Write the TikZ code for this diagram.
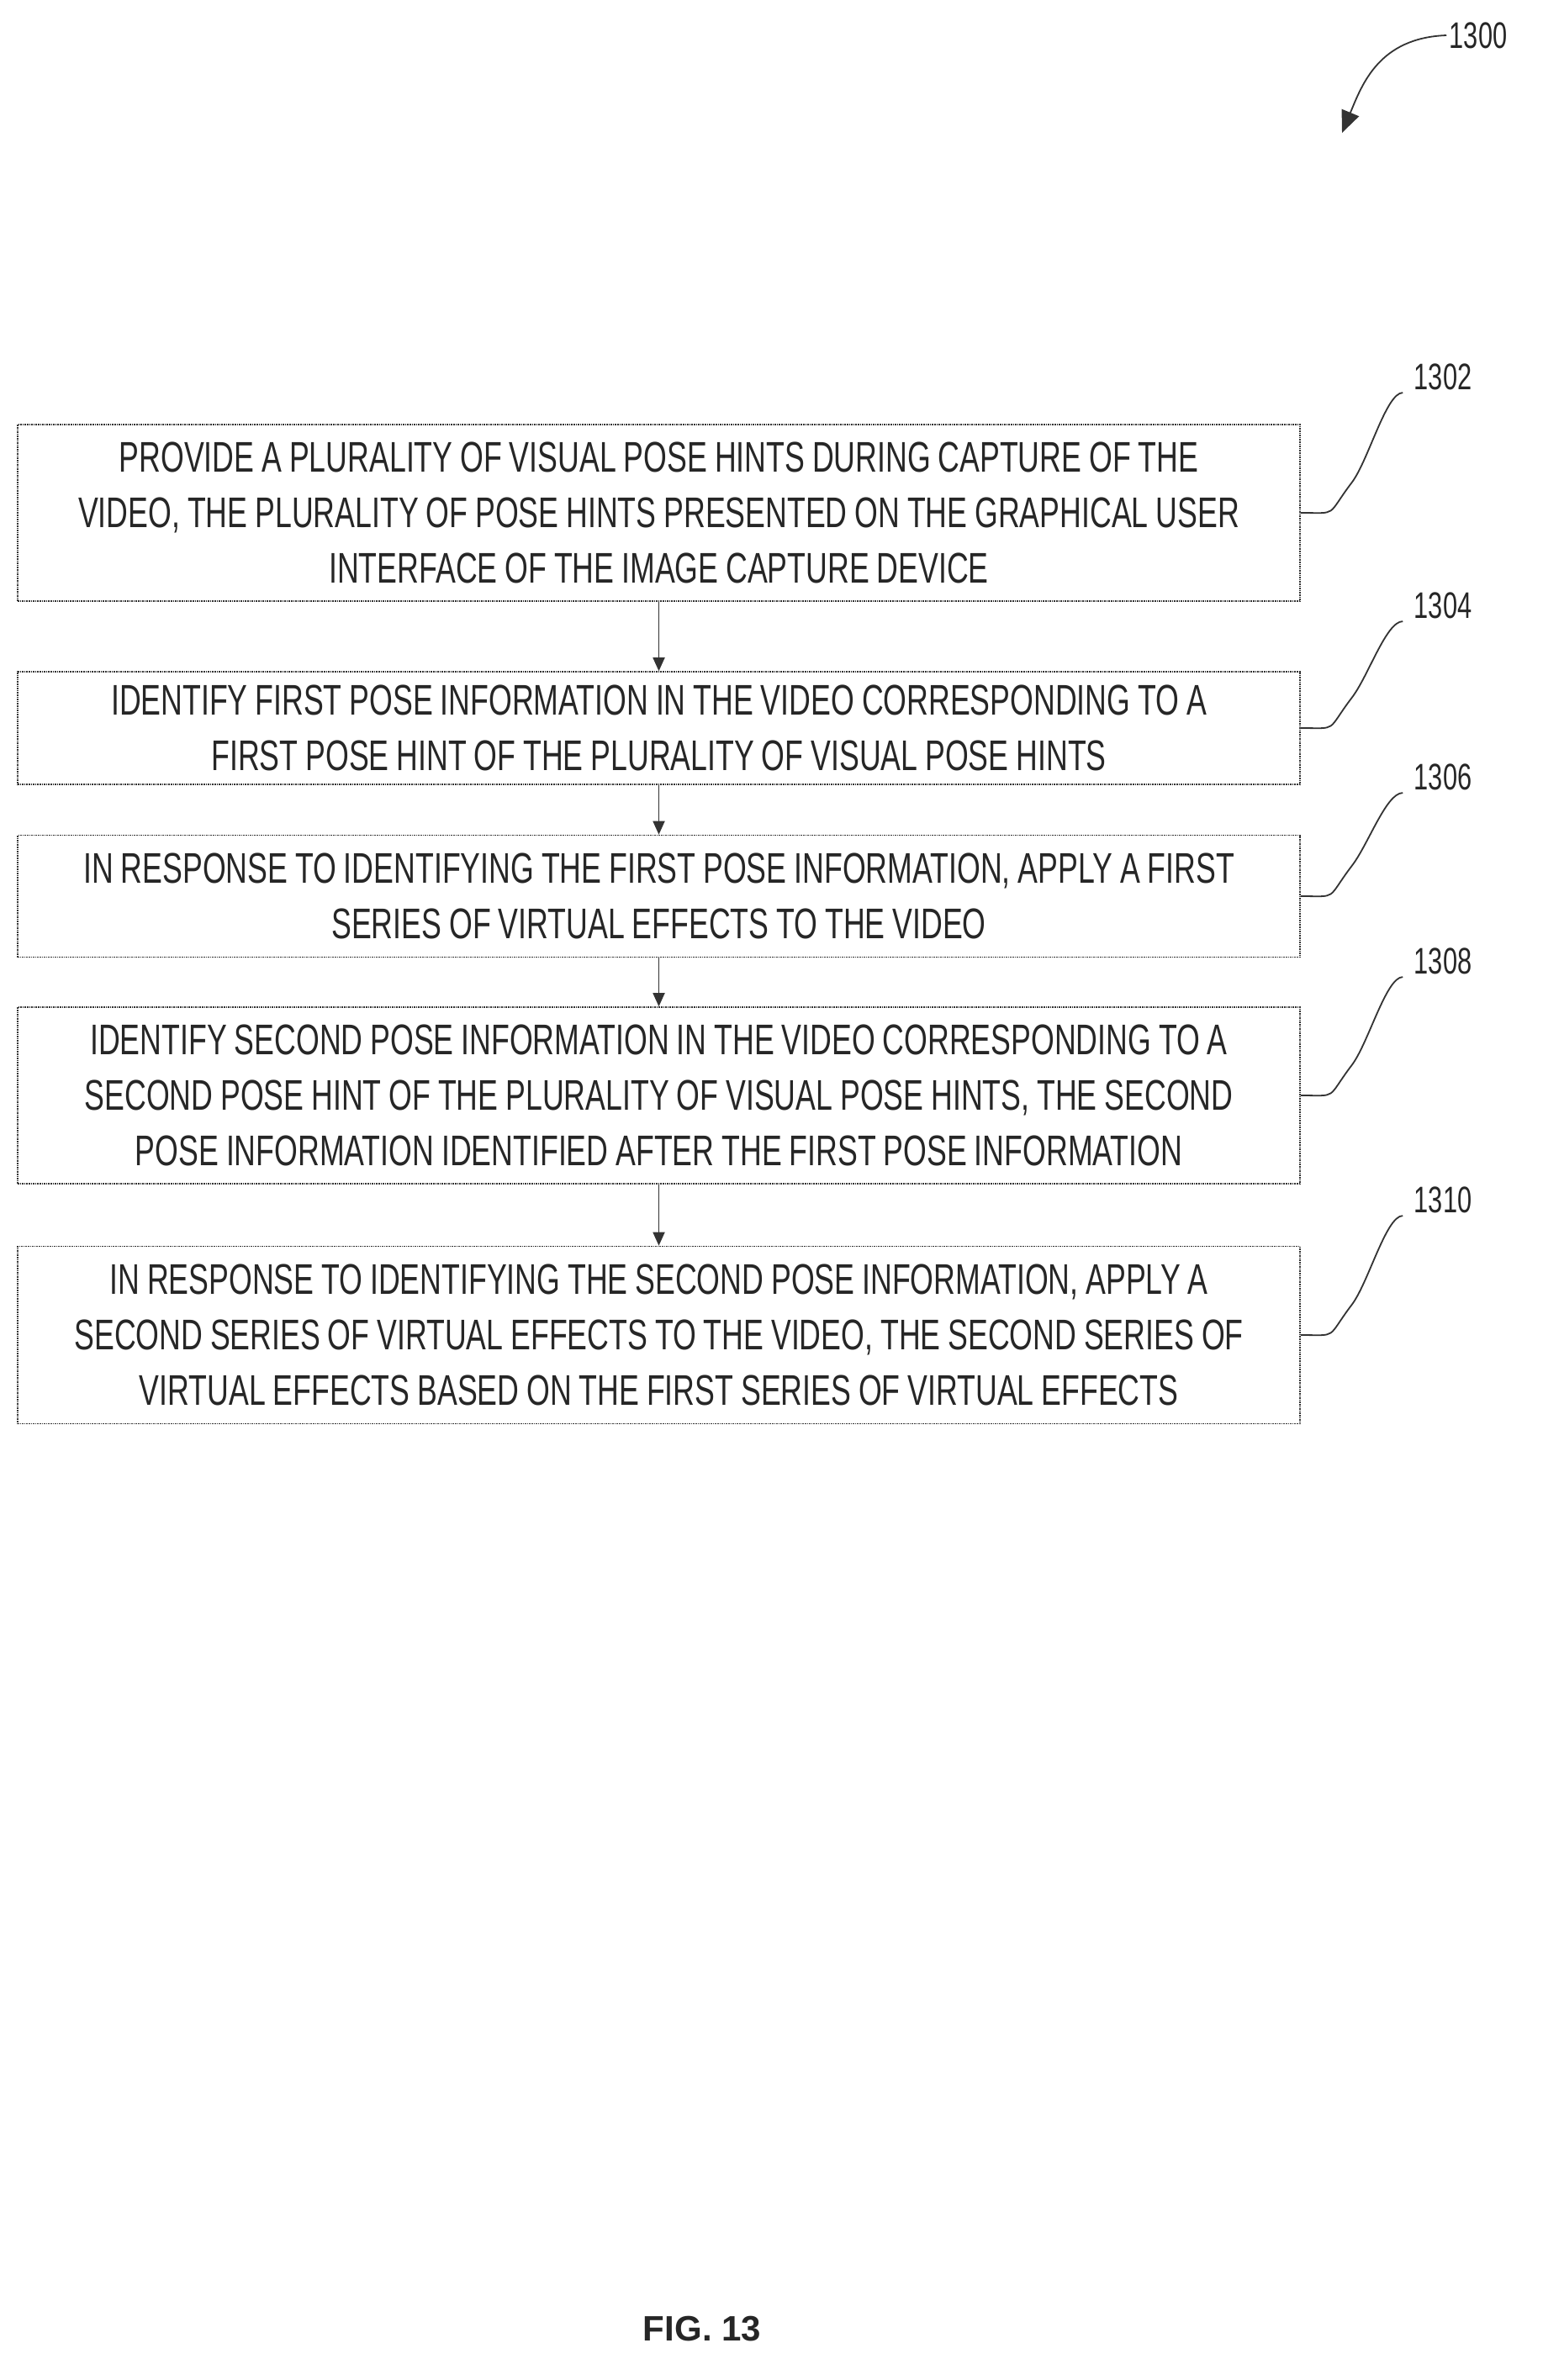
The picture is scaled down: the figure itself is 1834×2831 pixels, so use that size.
\documentclass[tikz,border=0pt]{standalone}
\usepackage{fontspec}
\setmainfont{Liberation Sans}[FakeStretch=0.7,WordSpace=0.9]
\newfontfamily\figfont{Liberation Sans}
\usetikzlibrary{arrows.meta}
\begin{document}
\begin{tikzpicture}[x=1pt,y=-1pt,
  box/.style={draw=black!80,line width=1.6pt,densely dotted,minimum width=1525pt,align=center,font=\fontsize{51}{66}\selectfont,text=black!85,inner sep=0pt},
  conn/.style={draw=black!80,line width=1.8pt,-{Triangle[length=16pt,width=14pt]}},
  lbl/.style={font=\fontsize{44}{44}\selectfont,text=black!85},
  sq/.style={draw=black!80,line width=1.8pt}]
\useasboundingbox (0,0) rectangle (1834,2831);
\node[box,minimum height=210pt] (b1) at (783.5,610) {PROVIDE A PLURALITY OF VISUAL POSE HINTS DURING CAPTURE OF THE\\VIDEO, THE PLURALITY OF POSE HINTS PRESENTED ON THE GRAPHICAL USER\\INTERFACE OF THE IMAGE CAPTURE DEVICE};
\node[box,minimum height=134pt] (b2) at (783.5,866) {IDENTIFY FIRST POSE INFORMATION IN THE VIDEO CORRESPONDING TO A\\FIRST POSE HINT OF THE PLURALITY OF VISUAL POSE HINTS};
\node[box,minimum height=145pt] (b3) at (783.5,1066) {IN RESPONSE TO IDENTIFYING THE FIRST POSE INFORMATION, APPLY A FIRST\\SERIES OF VIRTUAL EFFECTS TO THE VIDEO};
\node[box,minimum height=210pt] (b4) at (783.5,1303) {IDENTIFY SECOND POSE INFORMATION IN THE VIDEO CORRESPONDING TO A\\SECOND POSE HINT OF THE PLURALITY OF VISUAL POSE HINTS, THE SECOND\\POSE INFORMATION IDENTIFIED AFTER THE FIRST POSE INFORMATION};
\node[box,minimum height=211pt] (b5) at (783.5,1588) {IN RESPONSE TO IDENTIFYING THE SECOND POSE INFORMATION, APPLY A\\SECOND SERIES OF VIRTUAL EFFECTS TO THE VIDEO, THE SECOND SERIES OF\\VIRTUAL EFFECTS BASED ON THE FIRST SERIES OF VIRTUAL EFFECTS};
\draw[conn] (b1.south) -- (b2.north);
\draw[conn] (b2.south) -- (b3.north);
\draw[conn] (b3.south) -- (b4.north);
\draw[conn] (b4.south) -- (b5.north);
\foreach \b/\t/\y in {b1/1302/448,b2/1304/720,b3/1306/924,b4/1308/1143,b5/1310/1427}{
  \node[lbl] (l\t) at (1716,\y) {\t};
  \draw[sq] (\b.east) .. controls ++(45,0) and ++(-30,40) .. ++(60,-35) .. controls ++(20,-25) and ++(-20,0) .. ([xshift=-10pt]l\t.south west);
}
\node[lbl] (l1300) at (1758,42) {1300};
\coordinate (a1300) at (1596,158);
\draw[sq,-{Triangle[length=26pt,width=22pt]}] (l1300.west) .. controls (1640,45) and (1620,100) .. (a1300);
\node[font=\figfont\bfseries\fontsize{42}{42}\selectfont,text=black!85] (fig) at (835,2770) {FIG. 13};
\end{tikzpicture}
\end{document}
